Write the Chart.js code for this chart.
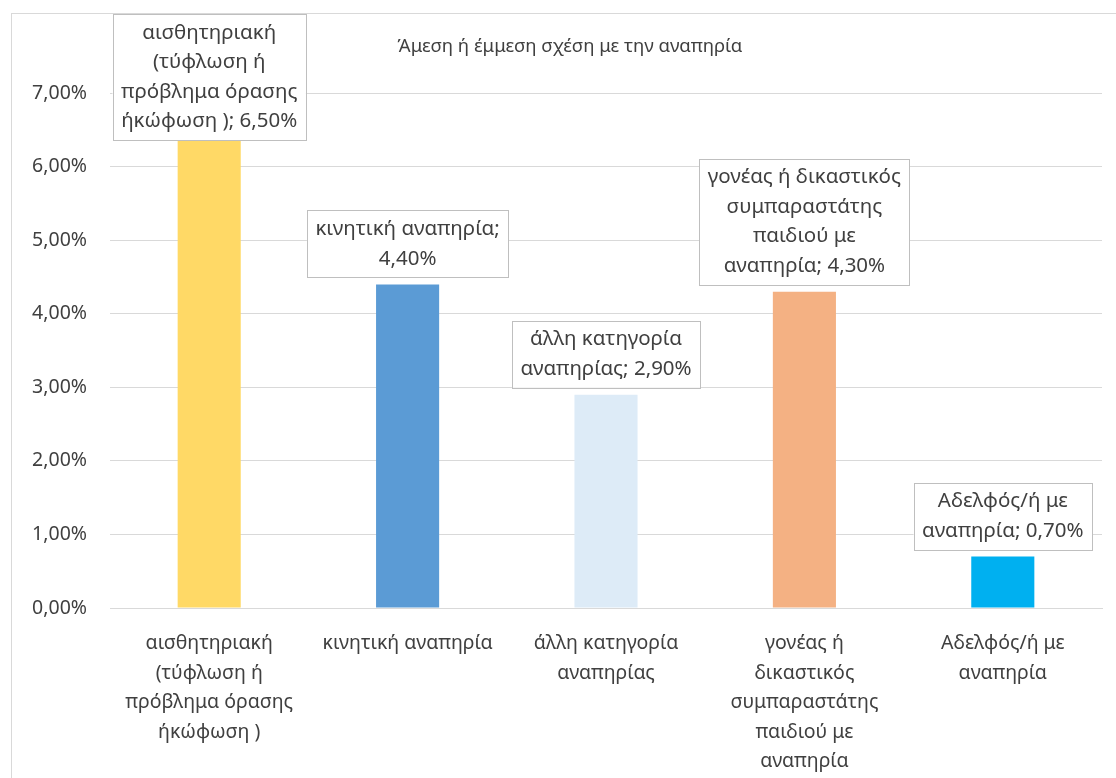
<!DOCTYPE html>
<html>
<head>
<meta charset="utf-8">
<script src="https://cdn.jsdelivr.net/npm/chart.js@4/dist/chart.umd.min.js"></script>
<style>
    html, body { margin: 0; padding: 0; background: #fff; }
    .frame {
        position: absolute; left: 11px; top: 13px;
        width: 1104px; height: 764px;
        border-left: 1px solid #d9d9d9; border-top: 1px solid #d9d9d9;
    }
</style>
</head>
<body>
<div class="frame"><canvas id="chart"></canvas></div>
<script>
const chartTitle = 'Άμεση ή έμμεση σχέση με την αναπηρία';

const categories = [
    ['αισθητηριακή', '(τύφλωση ή', 'πρόβλημα όρασης', 'ήκώφωση )'],
    ['κινητική αναπηρία'],
    ['άλλη κατηγορία', 'αναπηρίας'],
    ['γονέας ή', 'δικαστικός', 'συμπαραστάτης', 'παιδιού με', 'αναπηρία'],
    ['Αδελφός/ή με', 'αναπηρία'],
];

const values = [6.5, 4.4, 2.9, 4.3, 0.7];

// data label text, {v} is replaced by the value
const dataLabelLines = [
    ['αισθητηριακή', '(τύφλωση ή', 'πρόβλημα όρασης', 'ήκώφωση ); {v}'],
    ['κινητική αναπηρία;', '{v}'],
    ['άλλη κατηγορία', 'αναπηρίας; {v}'],
    ['γονέας ή δικαστικός', 'συμπαραστάτης', 'παιδιού με', 'αναπηρία; {v}'],
    ['Αδελφός/ή με', 'αναπηρία; {v}'],
];

const yMin = 0;
const yMax = 7;
const yStep = 1;

const barColors = ['#FFD966', '#5B9BD5', '#DDEBF7', '#F4B183', '#00B0F0'];

const FONT = '"Noto Sans", "Open Sans", sans-serif';
const TEXT = '#404040';
const GRID = '#d9d9d9';
const LINE_H = 29.5;

const pct = v => v.toFixed(2).replace('.', ',') + '%';

const boxLabels = {
    id: 'boxLabels',
    afterLayout(chart) {
        // title sits a bit right of the canvas centre in the original
        const tb = chart.titleBlock;
        const d = 558 - (tb.left + tb.right) / 2;
        tb.left += d; tb.right += d;
    },
    afterDatasetsDraw(chart) {
        const ctx = chart.ctx;
        const meta = chart.getDatasetMeta(0);
        ctx.save();
        ctx.font = `20.5px ${FONT}`;
        ctx.textAlign = 'center';
        ctx.textBaseline = 'middle';
        meta.data.forEach((bar, i) => {
            const lines = dataLabelLines[i].map(s => s.replace('{v}', pct(values[i])));
            const w = Math.max(...lines.map(l => ctx.measureText(l).width)) + 17;
            const h = lines.length * LINE_H + 8;
            let top = bar.y - 7 - h;
            if (top < 0) top = 0;
            const left = bar.x - w / 2;
            ctx.fillStyle = '#ffffff';
            ctx.fillRect(left, top, w, h);
            ctx.strokeStyle = '#bfbfbf';
            ctx.lineWidth = 1;
            ctx.strokeRect(Math.round(left) + 0.5, Math.round(top) + 0.5, Math.round(w), Math.round(h));
            ctx.fillStyle = TEXT;
            lines.forEach((l, k) => ctx.fillText(l, bar.x, top + 4 + LINE_H * (k + 0.5)));
        });
        ctx.restore();
    }
};

new Chart(document.getElementById('chart'), {
    type: 'bar',
    data: {
        labels: categories,
        datasets: [{
            data: values,
            backgroundColor: barColors,
            borderWidth: 0,
            barPercentage: 0.318,
            categoryPercentage: 1,
        }]
    },
    options: {
        responsive: true, maintainAspectRatio: false,
        animation: false,
        layout: { padding: { left: 12, right: 14, top: 0, bottom: 0 } },
        plugins: {
            legend: { display: false },
            tooltip: { enabled: false },
            title: {
                display: true,
                text: chartTitle,
                color: TEXT,
                font: { family: FONT, size: 18.5, weight: 'normal', lineHeight: 1.2 },
                padding: { top: 22, bottom: 35 },
            },
        },
        scales: {
            x: {
                grid: { display: false, drawTicks: false },
                border: { display: true, color: GRID, width: 1 },
                ticks: {
                    color: TEXT, padding: 21,
                    maxRotation: 0, autoSkip: false,
                    font: { family: FONT, size: 19.5, lineHeight: LINE_H / 19.5 },
                },
                afterFit(scale) { scale.height = 170; },
            },
            y: {
                min: yMin, max: yMax,
                grid: { color: GRID, drawTicks: false },
                border: { display: false },
                ticks: {
                    stepSize: yStep, color: TEXT, padding: 23,
                    font: { family: FONT, size: 19.5 },
                    callback: v => pct(v),
                },
                afterFit(scale) { scale.width = 86; },
            },
        },
    },
    plugins: [boxLabels],
});
</script>
</body>
</html>
